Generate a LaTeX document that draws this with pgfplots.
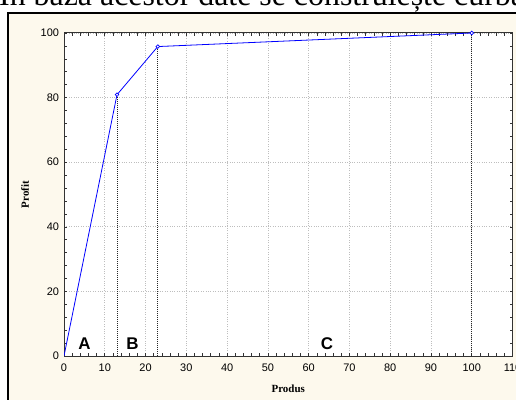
\documentclass[border=0pt]{standalone}
\usepackage{pgfplots}
\pgfplotsset{compat=1.18}
\usepackage{fontspec}
\setmainfont{Liberation Sans}
\newfontfamily\timesf{Liberation Serif}
\definecolor{beige}{RGB}{253,249,237}
\definecolor{gridc}{RGB}{190,190,190}
\begin{document}
\begin{tikzpicture}[x=1bp,y=1bp]
\clip (0,0) rectangle (516,399);
\fill[white] (0,0) rectangle (516,399);
\node[anchor=base west, inner sep=0pt, font=\timesf\fontsize{32}{36}\selectfont] at (-1,393) {În baza acestor date se construiește curba};
\draw[line width=2bp, fill=beige] (8.3,-20) rectangle (540,386);
\begin{axis}[
  at={(64bp,43bp)}, anchor=south west,
  scale only axis, width=448.5bp, height=323bp,
  xmin=0, xmax=110, ymin=0, ymax=100,
  xtick={0,10,...,110}, ytick={0,20,...,100},
  minor x tick num=4, minor y tick num=4,
  tick align=inside,
  major tick length=2.6bp, minor tick length=2.6bp,
  tick style={black!80, line width=0.6bp},
  axis line style={black!80, line width=1bp},
  axis background/.style={fill=white},
  grid=major,
  major grid style={gridc, line width=0.7bp, dash pattern=on 1bp off 1.4bp},
  /pgf/number format/assume math mode=true,
  ticklabel style={font=\fontsize{11}{12}\selectfont},
  xticklabel style={yshift=-4.5bp},
  yticklabel style={xshift=-1.5bp},
  xlabel={Produs}, ylabel={Profit},
  xlabel style={at={(axis description cs:0.5,-0.102)}, anchor=center, font=\timesf\bfseries\fontsize{11}{12}\selectfont},
  ylabel style={at={(axis description cs:-0.087,0.5)}, anchor=center, font=\timesf\bfseries\fontsize{11}{12}\selectfont},
]
\addplot[black!85, line width=1bp, dash pattern=on 1bp off 1bp] coordinates {(13,0) (13,80.9)};
\addplot[black!85, line width=1bp, dash pattern=on 1bp off 1bp] coordinates {(23,0) (23,95.8)};
\addplot[black!85, line width=1bp, dash pattern=on 1bp off 1bp] coordinates {(100,0) (100,100)};
\addplot[blue, line width=0.8bp] coordinates {(0,0) (13,80.9) (23,95.8) (100,100)};
\addplot[only marks, mark=*, mark size=1.8bp, mark options={fill=white, draw=blue, line width=0.7bp}] coordinates {(13,80.9) (23,95.8) (100,100)};
\node[font=\bfseries\fontsize{17}{18}\selectfont] at (axis cs:5,3.9) {A};
\node[font=\bfseries\fontsize{17}{18}\selectfont] at (axis cs:16.8,3.9) {B};
\node[font=\bfseries\fontsize{17}{18}\selectfont] at (axis cs:64.5,3.9) {C};
\end{axis}
\end{tikzpicture}
\end{document}
